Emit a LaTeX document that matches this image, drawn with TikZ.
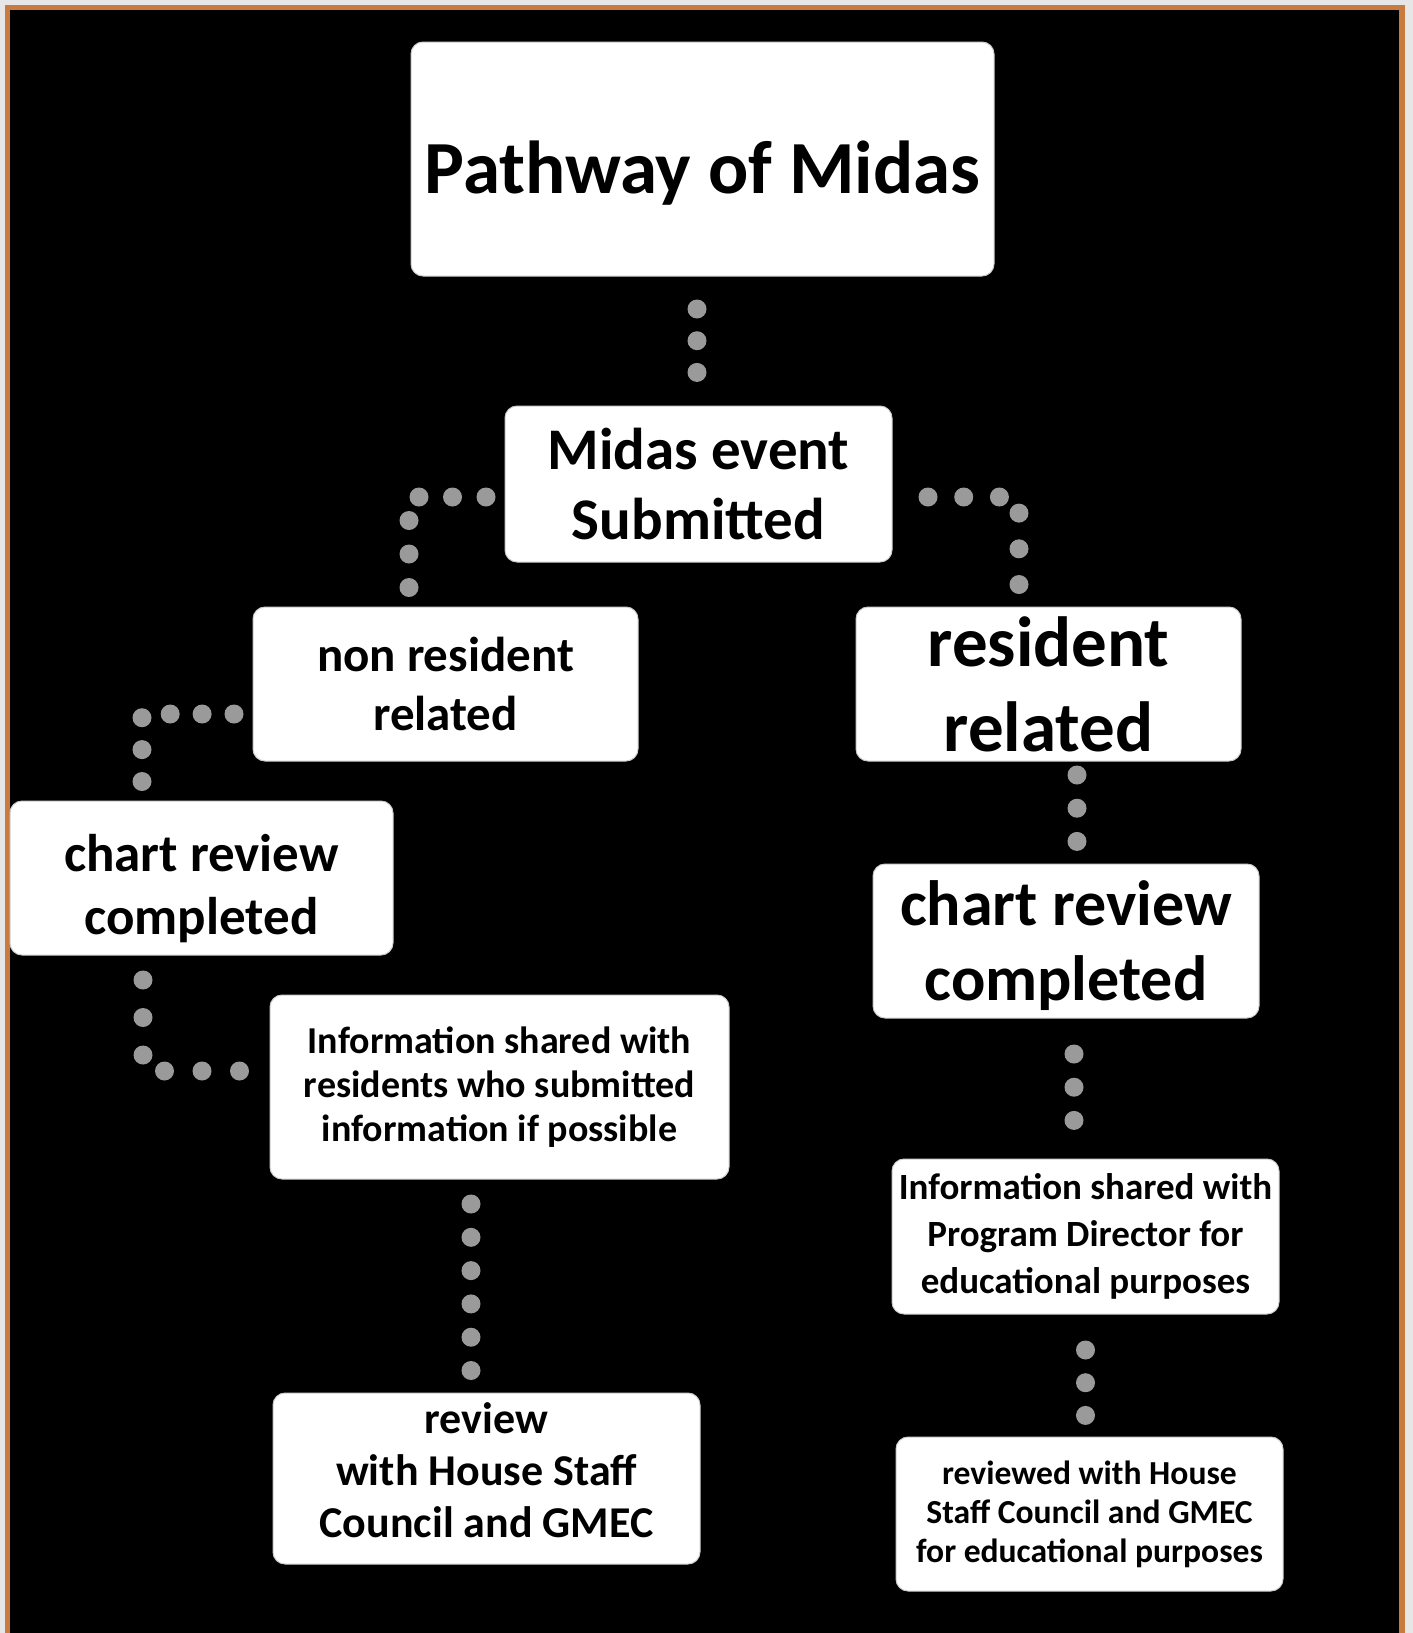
\documentclass[tikz,border=0pt]{standalone}
\usepackage{fontspec}
\setmainfont{Carlito}
\usetikzlibrary{positioning}
\definecolor{framebg}{HTML}{E6E6E6}
\definecolor{frameorange}{HTML}{C97B3F}
\definecolor{dotgray}{HTML}{9A9A9A}
\tikzstyle{box}=[rectangle, rounded corners=12pt, fill=white, draw=black!20, line width=1pt, align=center, inner sep=0pt, outer sep=0pt, text=black]
\tikzstyle{dotline}=[draw=dotgray, line width=19pt, line cap=round]
\newcommand{\fs}[2]{\fontsize{#1}{#2}\selectfont\bfseries}

\begin{document}
\begin{tikzpicture}[x=1pt, y=-1pt]

   \useasboundingbox (0,0) rectangle (1413,1633);
   \fill[framebg] (0,0) rectangle (1413,1633);
   \fill[frameorange] (5,5) rectangle (1405,1640);
   \fill[black] (10,10) rectangle (1399,1640);

   % boxes
   \node[box, minimum width=583pt, minimum height=234pt, text height=80pt, font=\fs{75}{90}] (title) at (702.5,159) {Pathway of Midas};
   \node[box, minimum width=387pt, minimum height=156pt, font=\fs{59}{70}] (submitted) at (698.5,484) {Midas event\\Submitted};
   \node[box, minimum width=385pt, minimum height=154pt, font=\fs{49}{59}] (nonres) at (445.5,684) {non resident\\related};
   \node[box, minimum width=385pt, minimum height=154pt, font=\fs{71}{85}] (res) at (1048.5,684) {resident\\related};
   \node[box, minimum width=383pt, minimum height=154pt, text height=112pt, text depth=0pt, font=\fs{53}{63}] (chartL) at (201.5,878) {chart review\\completed};
   \node[box, minimum width=386pt, minimum height=154pt, text depth=1pt, font=\fs{64}{75}] (chartR) at (1066,941) {chart review\\completed};
   \node[box, minimum width=459pt, minimum height=184pt, font=\fs{38}{44}] (infoL) at (499.5,1087) {Information shared with\\residents who submitted\\information if possible};
   \node[box, minimum width=387pt, minimum height=155pt, font=\fs{37}{47}] (infoR) at (1085.5,1236.5) {Information shared with\\Program Director for\\educational purposes};
   \node[box, minimum width=427pt, minimum height=171pt, text depth=16pt, font=\fs{44}{52}] (reviewL) at (486.5,1478.5) {review\\with House Staff\\Council and GMEC};
   \node[box, minimum width=387pt, minimum height=154pt, font=\fs{33.6}{39}] (reviewR) at (1089.5,1514) {reviewed with House\\Staff Council and GMEC\\for educational purposes};

   % straight dotted links
   \foreach \src/\dst/\dx/\s/\e/\gap in {title/submitted/-5.5/33/33/31.7, infoL/reviewL/-28.5/25/21/33.3, res/chartR/28.5/14/22/33.2, chartR/infoR/8/36/38/33.2, infoR/reviewR/0/36/21/32.7}
      \draw[dotline, shorten <=\s pt, shorten >=\e pt, dash pattern=on 0pt off \gap pt] ([xshift=\dx pt]\src.south) -- ([xshift=\dx pt]\src.south |- \dst.north);

   % elbow dotted links
   \draw[dotline, shorten <=19pt, shorten >=18pt, dash pattern=on 0pt off 33.5pt] ([yshift=-13pt]submitted.west) -| ([xshift=-36.5pt]nonres.north);
   \draw[dotline, shorten <=36pt, shorten >=21pt, dash pattern=on 0pt off 35.7pt] ([yshift=-13pt]submitted.east) -| ([xshift=-29.5pt]res.north);
   \draw[dotline, shorten <=19pt, shorten >=18pt, dash pattern=on 0pt off 31.9pt] ([yshift=-30pt]nonres.west) -| ([xshift=-59.5pt]chartL.north);
   \draw[dotline, shorten <=25pt, shorten >=29pt, dash pattern=on 0pt off 37.5pt] ([xshift=-58.5pt]chartL.south) |- ([yshift=16pt]infoL.west);

\end{tikzpicture}
\end{document}
